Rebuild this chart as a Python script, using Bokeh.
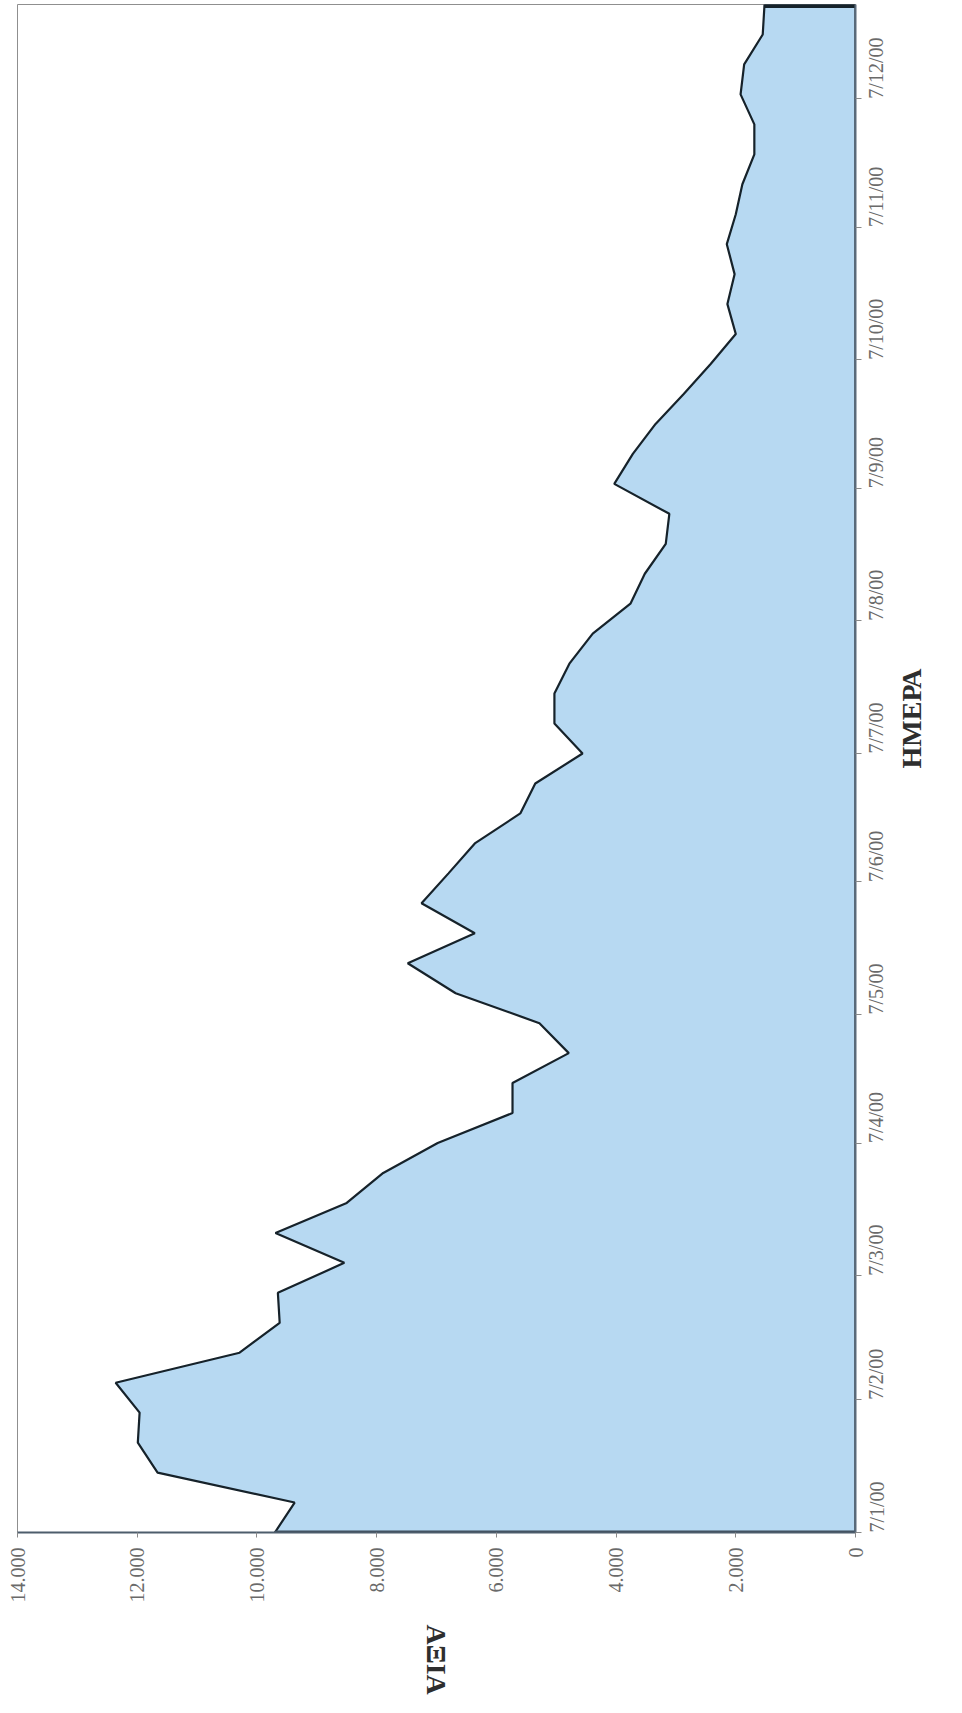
import math
import pandas as pd
from bokeh.plotting import figure
from bokeh.models import Range1d, FixedTicker
from bokeh.embed import file_html
from bokeh.resources import INLINE

# ---- data (weekly values) ----
week_dates = [
    "2000-01-07", "2000-01-14", "2000-01-21", "2000-01-28",
    "2000-02-04", "2000-02-11", "2000-02-18", "2000-02-25",
    "2000-03-03", "2000-03-10", "2000-03-17", "2000-03-24", "2000-03-31",
    "2000-04-07", "2000-04-14", "2000-04-21", "2000-04-28",
    "2000-05-05", "2000-05-12", "2000-05-19", "2000-05-26",
    "2000-06-02", "2000-06-09", "2000-06-16", "2000-06-23", "2000-06-30",
    "2000-07-07", "2000-07-14", "2000-07-21", "2000-07-28",
    "2000-08-04", "2000-08-11", "2000-08-18", "2000-08-25",
    "2000-09-01", "2000-09-08", "2000-09-15", "2000-09-22", "2000-09-29",
    "2000-10-06", "2000-10-13", "2000-10-20", "2000-10-27",
    "2000-11-03", "2000-11-10", "2000-11-17", "2000-11-24",
    "2000-12-01", "2000-12-08", "2000-12-15", "2000-12-22", "2000-12-29",
]
values = [
    9700, 9370, 11660, 11990,
    11960, 12360, 10290, 9620,
    9650, 8540, 9690, 8500, 7890,
    6980, 5730, 5730, 4790,
    5280, 6680, 7480, 6360,
    7250, 6800, 6360, 5600, 5350,
    4560, 5030, 5030, 4780,
    4390, 3760, 3520, 3170,
    3110, 4030, 3720, 3340, 2870,
    2420, 2000, 2140, 2020,
    2150, 2000, 1890, 1690,
    1690, 1920, 1860, 1550, 1520,
]
value_ticks = [0, 2000, 4000, 6000, 8000, 10000, 12000, 14000]
value_tick_labels = ["0", "2.000", "4.000", "6.000", "8.000", "10.000", "12.000", "14.000"]
date_ticks = [
    "2000-01-07", "2000-02-07", "2000-03-07", "2000-04-07", "2000-05-07", "2000-06-07",
    "2000-07-07", "2000-08-07", "2000-09-07", "2000-10-07", "2000-11-07", "2000-12-07",
]
date_tick_labels = [
    "7/1/00", "7/2/00", "7/3/00", "7/4/00", "7/5/00", "7/6/00",
    "7/7/00", "7/8/00", "7/9/00", "7/10/00", "7/11/00", "7/12/00",
]
value_title = "ΑΞΙΑ"
date_title = "ΗΜΕΡΑ"


def to_ms(strings):
    t = pd.to_datetime(strings)
    return [float((d - pd.Timestamp("1970-01-01")) / pd.Timedelta(milliseconds=1)) for d in t]


y_ms = to_ms(week_dates)
tick_ms = to_ms(date_ticks)

p = figure(
    width=946, height=1697,
    x_range=Range1d(14000, 0),
    y_range=Range1d(y_ms[0], y_ms[-1]),
    y_axis_location="right",
    output_backend="svg", toolbar_location=None,
    min_border_left=17, min_border_right=91, min_border_top=4, min_border_bottom=165,
)
p.grid.visible = False
p.background_fill_color = "white"
p.outline_line_color = "#8f8f8f"
p.outline_line_width = 1

# area with outline (closed down to zero at both ends)
px = [0] + values + [0]
py = [y_ms[0]] + y_ms + [y_ms[-1]]
p.patch(px, py, fill_color="#b7d9f2", line_color="#16222a", line_width=2.2)
p.line([values[-1], 0], [y_ms[-1], y_ms[-1]], line_color="#16222a", line_width=7)
p.line([values[0], 0], [y_ms[0], y_ms[0]], line_color="#3a4a58", line_width=4)

font = "Liberation Serif"

xa = p.xaxis[0]
xa.ticker = FixedTicker(ticks=value_ticks)
xa.major_label_overrides = {t: l for t, l in zip(value_ticks, value_tick_labels)}
xa.major_label_orientation = math.pi / 2
xa.major_label_text_font = font
xa.major_label_text_font_size = "20px"
xa.major_label_text_color = "#6a6a6a"
xa.major_label_standoff = 10
xa.major_tick_in = 0
xa.major_tick_out = 5
xa.minor_tick_in = 0
xa.minor_tick_out = 0
xa.axis_line_color = "#4d5d6c"
xa.axis_line_width = 2
xa.major_tick_line_color = "#8a8a8a"
xa.axis_label = value_title
xa.axis_label_orientation = -math.pi / 2
xa.axis_label_text_font = font
xa.axis_label_text_font_style = "bold"
xa.axis_label_text_font_size = "28px"
xa.axis_label_text_color = "#2e2e2e"
xa.axis_label_standoff = 19

ya = p.yaxis[0]
ya.ticker = FixedTicker(ticks=tick_ms)
ya.major_label_overrides = {t: l for t, l in zip(tick_ms, date_tick_labels)}
ya.major_label_orientation = math.pi / 2
ya.major_label_text_font = font
ya.major_label_text_font_size = "20px"
ya.major_label_text_color = "#6a6a6a"
ya.major_label_standoff = 15
ya.major_tick_in = 0
ya.major_tick_out = 6
ya.minor_tick_in = 0
ya.minor_tick_out = 0
ya.axis_line_color = "#5a6a7a"
ya.axis_line_width = 2
ya.major_tick_line_color = "#8a8a8a"
ya.axis_label = date_title
ya.axis_label_orientation = math.pi / 2
ya.axis_label_text_font = font
ya.axis_label_text_font_style = "bold"
ya.axis_label_text_font_size = "28px"
ya.axis_label_text_color = "#2e2e2e"
ya.axis_label_standoff = 10

open("out.html", "w").write(file_html(p, INLINE))
